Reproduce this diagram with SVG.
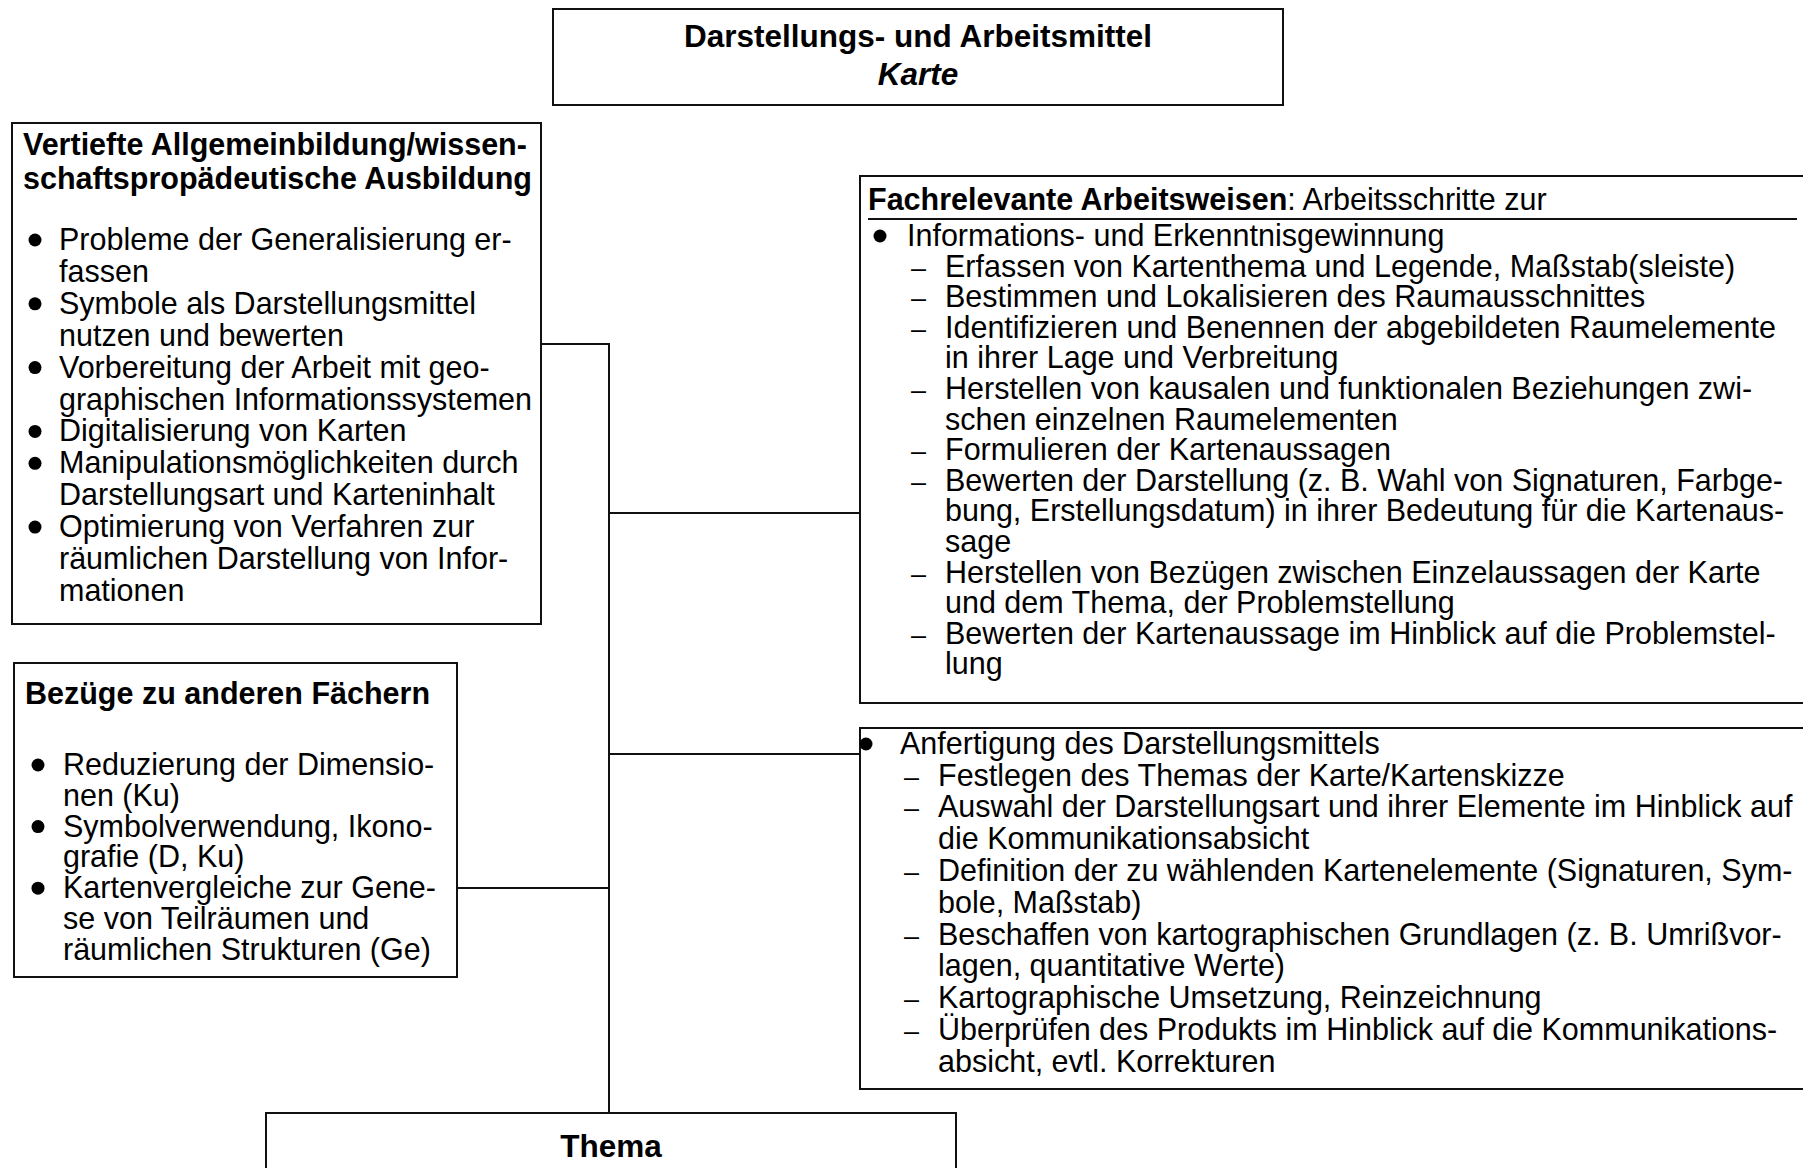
<svg xmlns="http://www.w3.org/2000/svg" width="1803" height="1168" viewBox="0 0 1803 1168">
  <style>
    text { font-family: "Liberation Sans", Arial, sans-serif; fill: #000; }
    .box { fill: #fff; stroke: #111; stroke-width: 2; }
    .link { fill: none; stroke: #111; stroke-width: 2; }
    .title { font-size: 31.5px; font-weight: bold; text-anchor: middle; }
    .head { font-size: 30.5px; font-weight: bold; }
    .body { font-size: 30.5px; }
    .dash { font-size: 27px; }
    .dot { fill: #000; }
  </style>

  <!-- connectors -->
  <g id="connectors">
    <path class="link" d="M541 344 H609 V1113"/>
    <path class="link" d="M457 888 H609"/>
    <path class="link" d="M609 513 H860"/>
    <path class="link" d="M609 754 H860"/>
  </g>

  <!-- top title -->
  <g id="node-title">
    <rect class="box" x="553" y="9" width="730" height="96"/>
    <text class="title" x="918" y="47">Darstellungs- und Arbeitsmittel</text>
    <text class="title" x="918" y="85" font-style="italic">Karte</text>
  </g>

  <!-- general education -->
  <g id="node-allgemeinbildung">
    <rect class="box" x="12" y="123" width="529" height="501"/>
    <text class="head" x="23" y="155">Vertiefte Allgemeinbildung/wissen-</text>
    <text class="head" x="23" y="189">schaftspropädeutische Ausbildung</text>
    <g class="dot">
      <circle cx="35" cy="240" r="6.5"/>
      <circle cx="35" cy="303.8" r="6.5"/>
      <circle cx="35" cy="367.6" r="6.5"/>
      <circle cx="35" cy="431.4" r="6.5"/>
      <circle cx="35" cy="463.3" r="6.5"/>
      <circle cx="35" cy="527.1" r="6.5"/>
    </g>
    <g class="body">
      <text x="59" y="250">Probleme der Generalisierung er-</text>
      <text x="59" y="281.9">fassen</text>
      <text x="59" y="313.8">Symbole als Darstellungsmittel</text>
      <text x="59" y="345.7">nutzen und bewerten</text>
      <text x="59" y="377.6">Vorbereitung der Arbeit mit geo-</text>
      <text x="59" y="409.5">graphischen Informationssystemen</text>
      <text x="59" y="441.4">Digitalisierung von Karten</text>
      <text x="59" y="473.3">Manipulationsmöglichkeiten durch</text>
      <text x="59" y="505.2">Darstellungsart und Karteninhalt</text>
      <text x="59" y="537.1">Optimierung von Verfahren zur</text>
      <text x="59" y="569">räumlichen Darstellung von Infor-</text>
      <text x="59" y="600.9">mationen</text>
    </g>
  </g>

  <!-- other subjects -->
  <g id="node-faecher">
    <rect class="box" x="14" y="663" width="443" height="314"/>
    <text class="head" x="25" y="704">Bezüge zu anderen Fächern</text>
    <g class="dot">
      <circle cx="38" cy="765" r="6.5"/>
      <circle cx="38" cy="826.6" r="6.5"/>
      <circle cx="38" cy="888.2" r="6.5"/>
    </g>
    <g class="body">
      <text x="63" y="775">Reduzierung der Dimensio-</text>
      <text x="63" y="805.8">nen (Ku)</text>
      <text x="63" y="836.6">Symbolverwendung, Ikono-</text>
      <text x="63" y="867.4">grafie (D, Ku)</text>
      <text x="63" y="898.2">Kartenvergleiche zur Gene-</text>
      <text x="63" y="929">se von Teilräumen und</text>
      <text x="63" y="959.8">räumlichen Strukturen (Ge)</text>
    </g>
  </g>

  <!-- working methods: reading maps -->
  <g id="node-arbeitsweisen">
    <rect class="box" x="860" y="176" width="950" height="527"/>
    <text class="body" x="868" y="210"><tspan font-weight="bold">Fachrelevante Arbeitsweisen</tspan>: Arbeitsschritte zur</text>
    <line x1="868" y1="219" x2="1797" y2="219" stroke="#111" stroke-width="2"/>
    <circle class="dot" cx="880" cy="236" r="6.5"/>
    <g class="body">
      <text x="907" y="246">Informations- und Erkenntnisgewinnung</text>
      <text x="945" y="276.5">Erfassen von Kartenthema und Legende, Maßstab(sleiste)</text>
      <text x="945" y="307.1">Bestimmen und Lokalisieren des Raumausschnittes</text>
      <text x="945" y="337.7">Identifizieren und Benennen der abgebildeten Raumelemente</text>
      <text x="945" y="368.3">in ihrer Lage und Verbreitung</text>
      <text x="945" y="398.9">Herstellen von kausalen und funktionalen Beziehungen zwi-</text>
      <text x="945" y="429.5">schen einzelnen Raumelementen</text>
      <text x="945" y="460.1">Formulieren der Kartenaussagen</text>
      <text x="945" y="490.7">Bewerten der Darstellung (z. B. Wahl von Signaturen, Farbge-</text>
      <text x="945" y="521.3">bung, Erstellungsdatum) in ihrer Bedeutung für die Kartenaus-</text>
      <text x="945" y="551.9">sage</text>
      <text x="945" y="582.5">Herstellen von Bezügen zwischen Einzelaussagen der Karte</text>
      <text x="945" y="613.1">und dem Thema, der Problemstellung</text>
      <text x="945" y="643.7">Bewerten der Kartenaussage im Hinblick auf die Problemstel-</text>
      <text x="945" y="674.3">lung</text>
    </g>
    <g class="dash">
      <text x="911" y="276.5">–</text>
      <text x="911" y="307.1">–</text>
      <text x="911" y="337.7">–</text>
      <text x="911" y="398.9">–</text>
      <text x="911" y="460.1">–</text>
      <text x="911" y="490.7">–</text>
      <text x="911" y="582.5">–</text>
      <text x="911" y="643.7">–</text>
    </g>
  </g>

  <!-- working methods: making maps -->
  <g id="node-anfertigung">
    <rect class="box" x="860" y="728" width="950" height="361"/>
    <circle class="dot" cx="866" cy="744" r="6.5"/>
    <g class="body">
      <text x="900" y="754">Anfertigung des Darstellungsmittels</text>
      <text x="938" y="785.5">Festlegen des Themas der Karte/Kartenskizze</text>
      <text x="938" y="817.3">Auswahl der Darstellungsart und ihrer Elemente im Hinblick auf</text>
      <text x="938" y="849.1">die Kommunikationsabsicht</text>
      <text x="938" y="880.9">Definition der zu wählenden Kartenelemente (Signaturen, Sym-</text>
      <text x="938" y="912.7">bole, Maßstab)</text>
      <text x="938" y="944.5">Beschaffen von kartographischen Grundlagen (z. B. Umrißvor-</text>
      <text x="938" y="976.3">lagen, quantitative Werte)</text>
      <text x="938" y="1008.1">Kartographische Umsetzung, Reinzeichnung</text>
      <text x="938" y="1039.9">Überprüfen des Produkts im Hinblick auf die Kommunikations-</text>
      <text x="938" y="1071.7">absicht, evtl. Korrekturen</text>
    </g>
    <g class="dash">
      <text x="904" y="785.5">–</text>
      <text x="904" y="817.3">–</text>
      <text x="904" y="880.9">–</text>
      <text x="904" y="944.5">–</text>
      <text x="904" y="1008.1">–</text>
      <text x="904" y="1039.9">–</text>
    </g>
  </g>

  <!-- topic -->
  <g id="node-thema">
    <rect class="box" x="266" y="1113" width="690" height="80"/>
    <text class="title" x="611" y="1157" font-size="32px">Thema</text>
  </g>
</svg>
